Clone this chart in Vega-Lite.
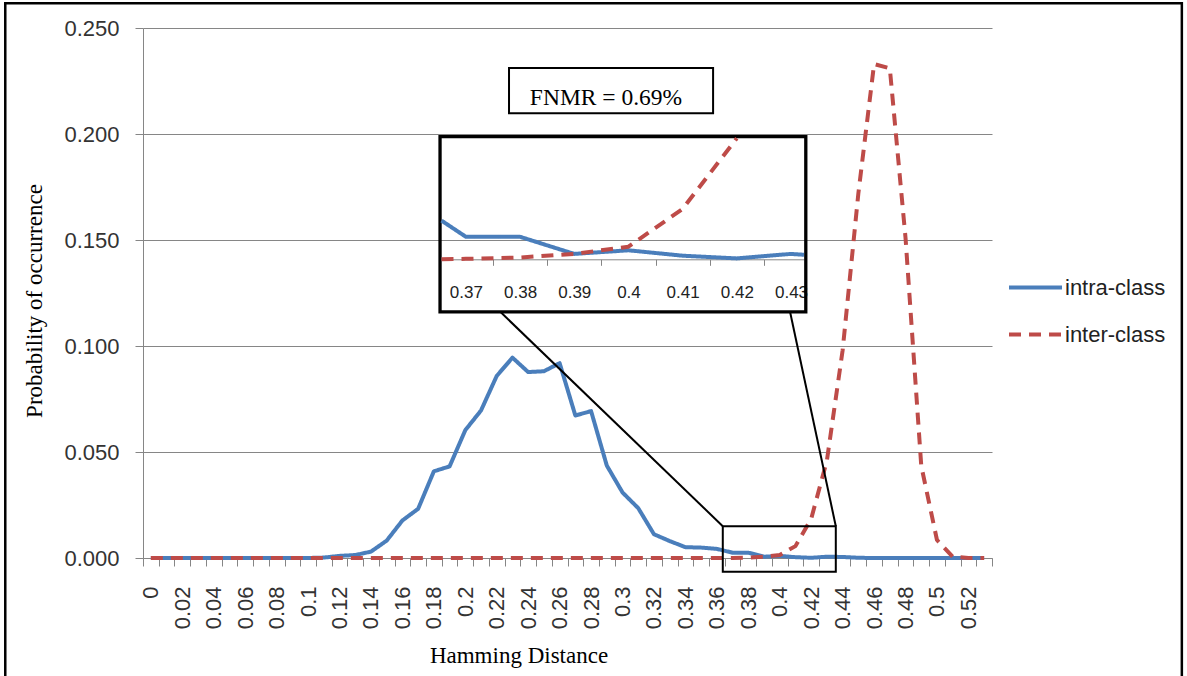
{
  "$schema": "https://vega.github.io/schema/vega-lite/v6.json",
  "width": 849,
  "height": 530,
  "autosize": {"type": "none"},
  "padding": {"left": 143, "top": 28, "right": 195, "bottom": 118},
  "background": "white",
  "config": {
    "view": {"stroke": null},
    "font": "Liberation Sans",
    "legend": {
      "orient": "none",
      "legendX": 864,
      "legendY": 237,
      "symbolType": "stroke",
      "symbolSize": 2809,
      "symbolStrokeWidth": 4,
      "labelFont": "Liberation Sans",
      "labelFontSize": 22,
      "labelColor": "#222222",
      "labelOffset": 1,
      "clipHeight": 45,
      "rowPadding": 2
    }
  },
  "datasets": {
    "d": [
      {"hd": 0, "series": "intra-class", "p": 0},
      {"hd": 0.01, "series": "intra-class", "p": 0},
      {"hd": 0.02, "series": "intra-class", "p": 0},
      {"hd": 0.03, "series": "intra-class", "p": 0},
      {"hd": 0.04, "series": "intra-class", "p": 0},
      {"hd": 0.05, "series": "intra-class", "p": 0},
      {"hd": 0.06, "series": "intra-class", "p": 0},
      {"hd": 0.07, "series": "intra-class", "p": 0},
      {"hd": 0.08, "series": "intra-class", "p": 0},
      {"hd": 0.09, "series": "intra-class", "p": 0},
      {"hd": 0.1, "series": "intra-class", "p": 0},
      {"hd": 0.11, "series": "intra-class", "p": 0.0002},
      {"hd": 0.12, "series": "intra-class", "p": 0.001},
      {"hd": 0.13, "series": "intra-class", "p": 0.0014},
      {"hd": 0.14, "series": "intra-class", "p": 0.003},
      {"hd": 0.15, "series": "intra-class", "p": 0.0082},
      {"hd": 0.16, "series": "intra-class", "p": 0.0177},
      {"hd": 0.17, "series": "intra-class", "p": 0.0232},
      {"hd": 0.18, "series": "intra-class", "p": 0.0409},
      {"hd": 0.19, "series": "intra-class", "p": 0.0432},
      {"hd": 0.2, "series": "intra-class", "p": 0.0603},
      {"hd": 0.21, "series": "intra-class", "p": 0.0696},
      {"hd": 0.22, "series": "intra-class", "p": 0.0859},
      {"hd": 0.23, "series": "intra-class", "p": 0.0945},
      {"hd": 0.24, "series": "intra-class", "p": 0.0877},
      {"hd": 0.25, "series": "intra-class", "p": 0.0881},
      {"hd": 0.26, "series": "intra-class", "p": 0.0919},
      {"hd": 0.27, "series": "intra-class", "p": 0.0672},
      {"hd": 0.28, "series": "intra-class", "p": 0.0693},
      {"hd": 0.29, "series": "intra-class", "p": 0.0436},
      {"hd": 0.3, "series": "intra-class", "p": 0.0309},
      {"hd": 0.31, "series": "intra-class", "p": 0.0235},
      {"hd": 0.32, "series": "intra-class", "p": 0.0112},
      {"hd": 0.33, "series": "intra-class", "p": 0.008},
      {"hd": 0.34, "series": "intra-class", "p": 0.0051},
      {"hd": 0.35, "series": "intra-class", "p": 0.0049},
      {"hd": 0.36, "series": "intra-class", "p": 0.0043},
      {"hd": 0.37, "series": "intra-class", "p": 0.0025},
      {"hd": 0.38, "series": "intra-class", "p": 0.0025},
      {"hd": 0.39, "series": "intra-class", "p": 0.0006},
      {"hd": 0.4, "series": "intra-class", "p": 0.001},
      {"hd": 0.41, "series": "intra-class", "p": 0.0004},
      {"hd": 0.42, "series": "intra-class", "p": 0.0001},
      {"hd": 0.43, "series": "intra-class", "p": 0.0006},
      {"hd": 0.44, "series": "intra-class", "p": 0.0005},
      {"hd": 0.45, "series": "intra-class", "p": 0.0001},
      {"hd": 0.46, "series": "intra-class", "p": 0},
      {"hd": 0.47, "series": "intra-class", "p": 0},
      {"hd": 0.48, "series": "intra-class", "p": 0},
      {"hd": 0.49, "series": "intra-class", "p": 0},
      {"hd": 0.5, "series": "intra-class", "p": 0},
      {"hd": 0.51, "series": "intra-class", "p": 0},
      {"hd": 0.52, "series": "intra-class", "p": 0},
      {"hd": 0.53, "series": "intra-class", "p": 0},
      {"hd": 0, "series": "inter-class", "p": 0},
      {"hd": 0.01, "series": "inter-class", "p": 0},
      {"hd": 0.02, "series": "inter-class", "p": 0},
      {"hd": 0.03, "series": "inter-class", "p": 0},
      {"hd": 0.04, "series": "inter-class", "p": 0},
      {"hd": 0.05, "series": "inter-class", "p": 0},
      {"hd": 0.06, "series": "inter-class", "p": 0},
      {"hd": 0.07, "series": "inter-class", "p": 0},
      {"hd": 0.08, "series": "inter-class", "p": 0},
      {"hd": 0.09, "series": "inter-class", "p": 0},
      {"hd": 0.1, "series": "inter-class", "p": 0},
      {"hd": 0.11, "series": "inter-class", "p": 0},
      {"hd": 0.12, "series": "inter-class", "p": 0},
      {"hd": 0.13, "series": "inter-class", "p": 0},
      {"hd": 0.14, "series": "inter-class", "p": 0},
      {"hd": 0.15, "series": "inter-class", "p": 0},
      {"hd": 0.16, "series": "inter-class", "p": 0},
      {"hd": 0.17, "series": "inter-class", "p": 0},
      {"hd": 0.18, "series": "inter-class", "p": 0},
      {"hd": 0.19, "series": "inter-class", "p": 0},
      {"hd": 0.2, "series": "inter-class", "p": 0},
      {"hd": 0.21, "series": "inter-class", "p": 0},
      {"hd": 0.22, "series": "inter-class", "p": 0},
      {"hd": 0.23, "series": "inter-class", "p": 0},
      {"hd": 0.24, "series": "inter-class", "p": 0},
      {"hd": 0.25, "series": "inter-class", "p": 0},
      {"hd": 0.26, "series": "inter-class", "p": 0},
      {"hd": 0.27, "series": "inter-class", "p": 0},
      {"hd": 0.28, "series": "inter-class", "p": 0},
      {"hd": 0.29, "series": "inter-class", "p": 0},
      {"hd": 0.3, "series": "inter-class", "p": 0},
      {"hd": 0.31, "series": "inter-class", "p": 0},
      {"hd": 0.32, "series": "inter-class", "p": 0},
      {"hd": 0.33, "series": "inter-class", "p": 0},
      {"hd": 0.34, "series": "inter-class", "p": 0},
      {"hd": 0.35, "series": "inter-class", "p": 0},
      {"hd": 0.36, "series": "inter-class", "p": 0},
      {"hd": 0.37, "series": "inter-class", "p": 0.00005},
      {"hd": 0.38, "series": "inter-class", "p": 0.0002},
      {"hd": 0.39, "series": "inter-class", "p": 0.0006},
      {"hd": 0.4, "series": "inter-class", "p": 0.0014},
      {"hd": 0.41, "series": "inter-class", "p": 0.0056},
      {"hd": 0.42, "series": "inter-class", "p": 0.0185},
      {"hd": 0.43, "series": "inter-class", "p": 0.046},
      {"hd": 0.44, "series": "inter-class", "p": 0.098},
      {"hd": 0.45, "series": "inter-class", "p": 0.172},
      {"hd": 0.46, "series": "inter-class", "p": 0.233},
      {"hd": 0.47, "series": "inter-class", "p": 0.231},
      {"hd": 0.48, "series": "inter-class", "p": 0.151},
      {"hd": 0.49, "series": "inter-class", "p": 0.0435},
      {"hd": 0.5, "series": "inter-class", "p": 0.0085},
      {"hd": 0.51, "series": "inter-class", "p": 0.0006},
      {"hd": 0.52, "series": "inter-class", "p": 0},
      {"hd": 0.53, "series": "inter-class", "p": 0}
    ]
  },
  "layer": [
    {
      "layer": [
        {
          "data": {"name": "d"},
          "transform": [{"filter": "datum.series == 'intra-class'"}],
          "mark": {"type": "line", "strokeWidth": 4, "strokeJoin": "round", "strokeCap": "butt"},
          "encoding": {
            "x": {
              "field": "hd", "type": "quantitative",
              "scale": {"domain": [-0.005, 0.535], "nice": false, "zero": false},
              "axis": {
                "values": [-0.005,0.005,0.015,0.025,0.035,0.045,0.055,0.065,0.075,0.085,0.095,0.105,0.115,0.125,0.135,0.145,0.155,0.165,0.175,0.185,0.195,0.205,0.215,0.225,0.235,0.245,0.255,0.265,0.275,0.285,0.295,0.305,0.315,0.325,0.335,0.345,0.355,0.365,0.375,0.385,0.395,0.405,0.415,0.425,0.435,0.445,0.455,0.465,0.475,0.485,0.495,0.505,0.515,0.525,0.535],
                "tickCount": 200,
                "labelExpr": "datum.value > 0.53 ? '' : (round((datum.value + 0.005) * 100) % 2 == 0 ? toString(round((datum.value + 0.005) * 100) / 100) : '')",
                "labelAngle": 270,
                "labelAlign": "right",
                "labelBaseline": "middle",
                "labelOffset": 7.86,
                "labelPadding": 20,
                "labelFont": "Liberation Sans",
                "labelFontSize": 22,
                "labelColor": "#333333",
                "labelFlush": false,
                "labelOverlap": false,
                "labelBound": false,
                "tickSize": 8,
                "tickColor": "#868686",
                "domainColor": "#868686",
                "grid": false,
                "title": "Hamming Distance",
                "titleFont": "Liberation Serif",
                "titleFontSize": 23,
                "titleFontWeight": "normal",
                "titleColor": "#000000",
                "titleX": 375.5,
                "titleY": 104,
                "titleBaseline": "alphabetic",
                "titleAlign": "center"
              }
            },
            "y": {
              "field": "p", "type": "quantitative",
              "scale": {"domain": [0, 0.25], "nice": false},
              "axis": {
                "values": [0, 0.05, 0.1, 0.15, 0.2, 0.25],
                "format": ".3f",
                "grid": true,
                "gridColor": "#868686",
                "gridWidth": 1,
                "domainColor": "#868686",
                "tickColor": "#868686",
                "tickSize": 8,
                "labelFont": "Liberation Sans",
                "labelFontSize": 22,
                "labelColor": "#333333",
                "labelPadding": 16,
                "labelFlush": false,
                "title": "Probability  of occurrence",
                "titleFont": "Liberation Serif",
                "titleFontSize": 23,
                "titleFontWeight": "normal",
                "titleColor": "#000000",
                "titleAngle": 270,
                "titleX": -102,
                "titleY": 272.5,
                "titleBaseline": "alphabetic",
                "titleAlign": "center"
              }
            },
            "color": {"field": "series", "type": "nominal", "scale": {"domain": ["intra-class", "inter-class"], "range": ["#4A7EBB", "#BE4B48"]}, "legend": {"title": null}},
            "strokeDash": {"field": "series", "type": "nominal", "scale": {"domain": ["intra-class", "inter-class"], "range": [[1, 0], [12, 8]]}, "legend": {"title": null}}
          }
        },
        {
          "data": {"name": "d"},
          "transform": [{"filter": "datum.series == 'inter-class'"}],
          "mark": {"type": "line", "strokeWidth": 4, "strokeJoin": "round", "strokeCap": "butt"},
          "encoding": {
            "x": {"field": "hd", "type": "quantitative"},
            "y": {"field": "p", "type": "quantitative"},
            "color": {"field": "series", "type": "nominal", "legend": {"title": null}},
            "strokeDash": {"field": "series", "type": "nominal", "legend": {"title": null}}
          }
        },
        {
          "data": {"values": [{}]},
          "mark": {"type": "rect", "fill": "white", "stroke": "black", "strokeWidth": 2},
          "encoding": {
            "x": {"datum": 0.2278, "type": "quantitative"},
            "x2": {"datum": 0.3576},
            "y": {"datum": 0.2311, "type": "quantitative"},
            "y2": {"datum": 0.2098}
          }
        },
        {
          "data": {"values": [{}]},
          "mark": {"type": "text", "text": "FNMR = 0.69%", "font": "Liberation Serif", "fontSize": 23.5, "color": "black", "align": "center", "baseline": "alphabetic"},
          "encoding": {
            "x": {"datum": 0.2895, "type": "quantitative"},
            "y": {"datum": 0.2137, "type": "quantitative"}
          }
        },
        {
          "data": {"values": [{}]},
          "mark": {"type": "rect", "filled": false, "stroke": "black", "strokeWidth": 3.3},
          "encoding": {
            "x": {"datum": 0.18393, "type": "quantitative"},
            "x2": {"datum": 0.41657},
            "y": {"datum": 0.19872, "type": "quantitative"},
            "y2": {"datum": 0.11614}
          }
        },
        {
          "data": {"values": [{}]},
          "mark": {"type": "rect", "filled": false, "stroke": "black", "strokeWidth": 2},
          "encoding": {
            "x": {"datum": 0.36377, "type": "quantitative"},
            "x2": {"datum": 0.43565},
            "y": {"datum": 0.01501, "type": "quantitative"},
            "y2": {"datum": -0.00649}
          }
        },
        {
          "data": {"values": [{}]},
          "mark": {"type": "rule", "stroke": "black", "strokeWidth": 2},
          "encoding": {
            "x": {"datum": 0.22242, "type": "quantitative"},
            "x2": {"datum": 0.36377},
            "y": {"datum": 0.116, "type": "quantitative"},
            "y2": {"datum": 0.01501}
          }
        },
        {
          "data": {"values": [{}]},
          "mark": {"type": "rule", "stroke": "black", "strokeWidth": 2},
          "encoding": {
            "x": {"datum": 0.40658, "type": "quantitative"},
            "x2": {"datum": 0.43565},
            "y": {"datum": 0.116, "type": "quantitative"},
            "y2": {"datum": 0.01501}
          }
        },
        {
          "data": {"values": [{}]},
          "mark": {"type": "rect", "filled": false, "stroke": "black", "strokeWidth": 2.5},
          "encoding": {
            "x": {"datum": -0.0926, "type": "quantitative"},
            "x2": {"datum": 0.65575},
            "y": {"datum": 0.26169, "type": "quantitative"},
            "y2": {"datum": -0.0625}
          }
        }
      ]
    },
    {
      "layer": [
        {
          "data": {"name": "d"},
          "transform": [{"filter": "datum.series == 'intra-class' && datum.hd > 0.355 && datum.hd < 0.445"}],
          "mark": {"type": "line", "strokeWidth": 4, "strokeJoin": "round", "strokeCap": "butt"},
          "encoding": {
            "x": {
              "field": "hd", "type": "quantitative",
              "scale": {"domain": [0.3655, 0.4324], "range": [298.5, 661], "nice": false, "zero": false, "clamp": true},
              "axis": {
                "orient": "bottom",
                "offset": -298.7,
                "values": [0.37, 0.38, 0.39, 0.4, 0.41, 0.42, 0.43],
                "tickCount": 50,
                "labelExpr": "toString(datum.value)",
                "tickOffset": -27.1,
                "labelOffset": 27.1,
                "tickSize": 6,
                "tickColor": "#868686",
                "domainColor": "#868686",
                "labelFont": "Liberation Sans Narrow, Liberation Sans",
                "labelFontSize": 17,
                "labelColor": "#222222",
                "labelPadding": 19,
                "labelAngle": 0,
                "labelFlush": false,
                "labelOverlap": false,
                "grid": false,
                "title": null
              }
            },
            "y": {
              "field": "p", "type": "quantitative",
              "scale": {"domain": [0, 0.013444], "range": [231.3, 110.3], "nice": false, "clamp": true},
              "axis": null
            },
            "color": {"field": "series", "type": "nominal", "legend": {"title": null}},
            "strokeDash": {"field": "series", "type": "nominal", "legend": {"title": null}}
          }
        },
        {
          "data": {"name": "d"},
          "transform": [{"filter": "datum.series == 'inter-class' && datum.hd > 0.355 && datum.hd < 0.425"}],
          "mark": {"type": "line", "strokeWidth": 4, "strokeJoin": "round", "strokeCap": "butt"},
          "encoding": {
            "x": {"field": "hd", "type": "quantitative"},
            "y": {"field": "p", "type": "quantitative"},
            "color": {"field": "series", "type": "nominal", "legend": {"title": null}},
            "strokeDash": {"field": "series", "type": "nominal", "legend": {"title": null}}
          }
        }
      ]
    }
  ],
  "resolve": {"scale": {"x": "independent", "y": "independent"}}
}
